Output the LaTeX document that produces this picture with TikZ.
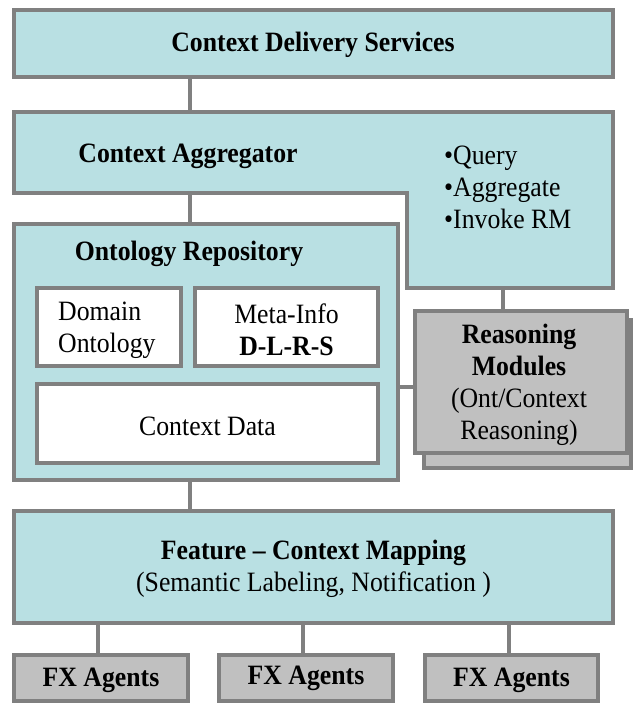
\documentclass[tikz,border=0pt]{standalone}
\usepackage{fontspec}
\setmainfont{Liberation Serif}[FakeStretch=0.92]
\definecolor{cyanf}{HTML}{B9E0E3}
\definecolor{bord}{HTML}{808080}
\definecolor{grayf}{HTML}{C0C0C0}
\begin{document}
\begin{tikzpicture}[x=1pt,y=-1pt,
  every node/.style={font=\fontsize{28}{32}\selectfont, text=black},
  cbox/.style={draw=bord, line width=4pt, fill=cyanf, inner sep=0pt, outer sep=0pt},
  gbox/.style={draw=bord, line width=4pt, fill=grayf, inner sep=0pt, outer sep=0pt},
  wbox/.style={draw=bord, line width=4pt, fill=white, inner sep=0pt, outer sep=0pt},
  conn/.style={draw=bord, line width=4pt},
  lbl/.style={inner sep=0pt, align=center}]
\useasboundingbox (0,0) rectangle (634,704);

% Context Delivery Services
\node[cbox, minimum width=599pt, minimum height=67pt] (cds) at (313.5,43.5) {};
\node[lbl] (cdstxt) at (313,45) {\bfseries Context Delivery Services};

% Context Aggregator (L-shape)
\filldraw[draw=bord, fill=cyanf, line width=4pt, line join=miter]
  (14,112) -- (613,112) -- (613,288) -- (407,288) -- (407,193) -- (14,193) -- cycle;
\coordinate (aggtop) at (190,112);
\coordinate (aggbot) at (190,193);
\coordinate (aggrm) at (503,288);
\node[lbl] (aggtxt) at (188,156) {\bfseries Context Aggregator};
\node[inner sep=0pt, align=left, anchor=west] (aggops) at (444,187) {\textbullet Query\\\textbullet Aggregate\\\textbullet Invoke RM};

% Ontology Repository
\node[cbox, minimum width=384pt, minimum height=256pt] (ont) at (206,352) {};
\node[lbl] (onttxt) at (189,254) {\bfseries Ontology Repository};
\node[wbox, minimum width=144pt, minimum height=78pt] (dom) at (109,327) {};
\node[inner sep=0pt, align=left, anchor=west] (domtxt) at (58,330) {Domain\\Ontology};
\node[wbox, minimum width=183pt, minimum height=78pt] (meta) at (286.5,327) {};
\node[lbl] (metatxt) at (286.5,330) {Meta-Info\\\bfseries D-L-R-S};
\node[wbox, minimum width=341pt, minimum height=79pt] (cdata) at (207.5,423.5) {};
\node[lbl] (cdatatxt) at (207.5,426) {Context Data};

% Reasoning Modules (with shadow)
\node[gbox, minimum width=207pt, minimum height=148pt] (rmshadow) at (527.5,394) {};
\node[gbox, minimum width=212pt, minimum height=142pt] (rm) at (521,382) {};
\node[lbl] (rmtxt) at (519,385) {\bfseries Reasoning\\\bfseries Modules\\(Ont/Context\\Reasoning)};

% Feature - Context Mapping
\node[cbox, minimum width=599pt, minimum height=112pt] (fcm) at (313.5,567) {};
\node[lbl] (fcmtxt) at (313.5,569) {\bfseries Feature -- Context Mapping\\(Semantic Labeling, Notification )};

% FX Agents
\node[gbox, minimum width=174pt, minimum height=46pt] (fx1) at (101,678) {};
\node[gbox, minimum width=174pt, minimum height=46pt] (fx2) at (306,678) {};
\node[gbox, minimum width=173pt, minimum height=46pt] (fx3) at (511.5,678) {};
\node[lbl] (fx1txt) at (101,680) {\bfseries FX Agents};
\node[lbl] (fx2txt) at (306,678) {\bfseries FX Agents};
\node[lbl] (fx3txt) at (511.5,680) {\bfseries FX Agents};

% Connectors
\draw[conn] (cds.south -| aggtop) -- (aggtop);
\draw[conn] (aggbot) -- (aggbot |- ont.north);
\draw[conn] (aggrm) -- (aggrm |- rm.north);
\draw[conn] (ont.east |- 0,387) -- (rm.west |- 0,387);
\draw[conn] (ont.south -| aggbot) -- (fcm.north -| aggbot);
\draw[conn] (fcm.south -| 98,0) -- (fx1.north -| 98,0);
\draw[conn] (fcm.south -| 303,0) -- (fx2.north -| 303,0);
\draw[conn] (fcm.south -| 509,0) -- (fx3.north -| 509,0);
\end{tikzpicture}
\end{document}
